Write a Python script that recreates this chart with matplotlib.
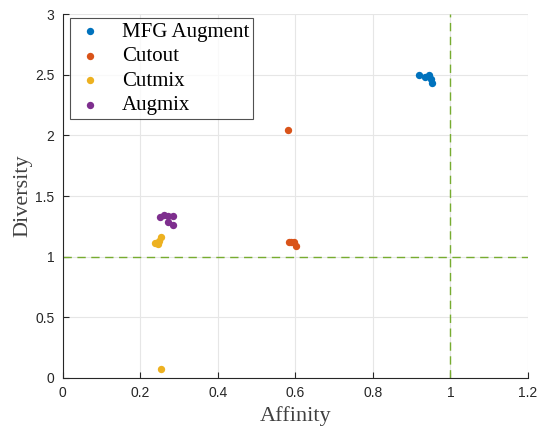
import matplotlib
matplotlib.use("Agg")
import matplotlib.pyplot as plt

labels = ["MFG Augment", "Cutout", "Cutmix", "Augmix"]
colors = ["#0072BD", "#D95319", "#EDB120", "#7E2F8E"]

mfg_x = [0.919, 0.934, 0.945, 0.950, 0.952]
mfg_y = [2.498, 2.480, 2.500, 2.465, 2.430]
cutout_x = [0.581, 0.583, 0.588, 0.596, 0.601]
cutout_y = [2.045, 1.120, 1.120, 1.120, 1.090]
cutmix_x = [0.253, 0.237, 0.245, 0.253, 0.248]
cutmix_y = [0.074, 1.113, 1.105, 1.160, 1.130]
augmix_x = [0.250, 0.261, 0.271, 0.284, 0.271, 0.284]
augmix_y = [1.327, 1.344, 1.335, 1.335, 1.290, 1.261]

xs = [mfg_x, cutout_x, cutmix_x, augmix_x]
ys = [mfg_y, cutout_y, cutmix_y, augmix_y]

fig = plt.figure(figsize=(5.37, 4.30), dpi=100)
ax = fig.add_axes([0.117, 0.121, 0.866, 0.846])

for x, y, c, l in zip(xs, ys, colors, labels):
    ax.scatter(x, y, s=28, color=c, label=l, zorder=3, linewidths=0)

ax.axvline(1, color="#77AC30", ls=(0, (6, 4)), lw=1.0, zorder=2)
ax.axhline(1, color="#77AC30", ls=(0, (6, 4)), lw=1.0, zorder=2)

ax.set_xlim(0, 1.2)
ax.set_ylim(0, 3)
ax.set_xticks([0, 0.2, 0.4, 0.6, 0.8, 1, 1.2])
ax.set_xticklabels(["0", "0.2", "0.4", "0.6", "0.8", "1", "1.2"])
ax.set_yticks([0, 0.5, 1, 1.5, 2, 2.5, 3])
ax.set_yticklabels(["0", "0.5", "1", "1.5", "2", "2.5", "3"])
ax.grid(True, color="#e6e6e6", lw=0.8, zorder=0)
ax.set_axisbelow(True)
for s in ["top", "right"]:
    ax.spines[s].set_visible(False)
for s in ["left", "bottom"]:
    ax.spines[s].set_color("#262626")
    ax.spines[s].set_linewidth(0.8)
ax.tick_params(direction="in", length=4, width=0.8, color="#262626",
               labelsize=10, labelcolor="#262626", pad=6)
for t in ax.get_xticklabels() + ax.get_yticklabels():
    t.set_fontfamily("Liberation Sans")

ax.set_xlabel("Affinity", fontfamily="Liberation Serif", fontsize=16, color="#404040", labelpad=4)
ax.set_ylabel("Diversity", fontfamily="Liberation Serif", fontsize=16, color="#404040", labelpad=2)

leg = ax.legend(loc="upper left", bbox_to_anchor=(0.015, 0.99),
                prop={"family": "Liberation Serif", "size": 15},
                frameon=True, fancybox=False, edgecolor="#262626",
                handletextpad=0.8, borderpad=0.2, labelspacing=0.24,
                handlelength=1.5, borderaxespad=0.0, scatterpoints=1)
leg.get_frame().set_linewidth(0.8)

fig.savefig("out.png", dpi=100)
